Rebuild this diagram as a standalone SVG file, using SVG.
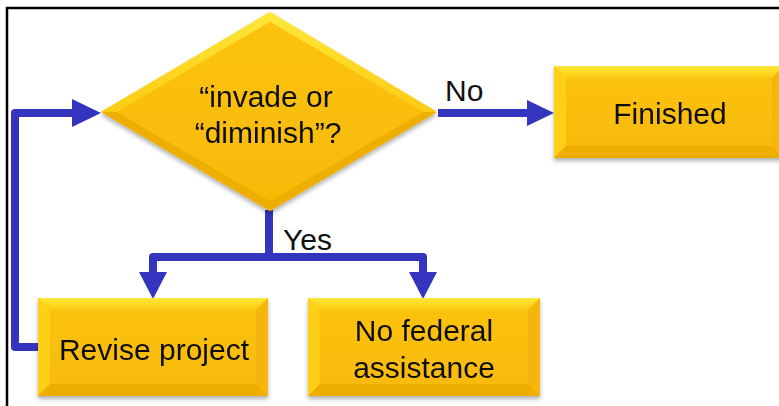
<svg xmlns="http://www.w3.org/2000/svg" width="779" height="406" viewBox="0 0 779 406">
  <defs>
    <linearGradient id="gold" x1="0" y1="0" x2="0" y2="1">
      <stop offset="0" stop-color="#FBC30E"/>
      <stop offset="1" stop-color="#F8BA06"/>
    </linearGradient>
    <linearGradient id="bevelTop" x1="0" y1="0" x2="0" y2="1">
      <stop offset="0" stop-color="#FFE83A"/>
      <stop offset="1" stop-color="#FDCB14"/>
    </linearGradient>
    <filter id="shadow" x="-10%" y="-10%" width="120%" height="130%">
      <feDropShadow dx="0" dy="3" stdDeviation="2" flood-color="#000" flood-opacity="0.3"/>
    </filter>
  </defs>
  <style>
    .lbl { font-family: "Liberation Sans", Arial, sans-serif; font-size: 30px; fill: #111; text-anchor: middle; }
    .edge { font-family: "Liberation Sans", Arial, sans-serif; font-size: 30px; fill: #111; }
    .conn { fill: none; stroke: #3434BE; stroke-width: 8; stroke-linejoin: round; }
    .head { fill: #3434BE; }
    .body { fill: url(#gold); }
    .hi { fill: url(#bevelTop); }
    .lite { fill: #FDCF18; }
    .dark { fill: #EEAE06; }
    .side { fill: #F4B608; }
  </style>

  <rect x="0" y="0" width="779" height="406" fill="#fff"/>
  <!-- frame -->
  <path d="M7,406 V8 H779" fill="none" stroke="#000" stroke-width="2.5"/>

  <!-- connectors -->
  <g id="connectors">
    <path class="conn" d="M438,113 H527" />
    <path class="head" d="M527,100 L554,113 L527,126 Z"/>
    <path class="conn" d="M269,210 V257" />
    <path class="conn" d="M153,273 V257 H423 V273" />
    <path class="head" d="M139,272 L153,299 L167,272 Z"/>
    <path class="head" d="M409,272 L423,299 L437,272 Z"/>
    <path class="conn" d="M38,347 H15 V113 H73" />
    <path class="head" d="M72,99 L101,113 L72,127 Z"/>
    <text class="edge" x="445" y="101">No</text>
    <text class="edge" x="283" y="250">Yes</text>
  </g>

  <!-- decision -->
  <g id="decision" filter="url(#shadow)">
    <path class="body" d="M270,12 L437,112 L270,211 L101,112 Z"/>
    <path class="hi" d="M270,12 L437,112 L423,112 L270,22 L117,112 L101,112 Z"/>
    <path class="dark" d="M101,112 L117,112 L270,201 L423,112 L437,112 L270,211 Z"/>
    <path class="body" d="M270,22 L423,112 L270,201 L117,112 Z"/>
    <text class="lbl" x="266" y="107">“invade or</text>
    <text class="lbl" x="268" y="143">“diminish”?</text>
  </g>

  <!-- finished -->
  <g id="finished" filter="url(#shadow)">
    <rect class="body" x="554" y="66" width="230" height="92"/>
    <path class="hi" d="M554,66 H784 L772,78 H566 Z"/>
    <path class="lite" d="M554,66 L566,78 V146 L554,158 Z"/>
    <path class="dark" d="M554,158 L566,146 H772 L784,158 Z"/>
    <path class="side" d="M784,66 L772,78 V146 L784,158 Z"/>
    <text class="lbl" x="670" y="124">Finished</text>
  </g>

  <!-- revise project -->
  <g id="revise" filter="url(#shadow)">
    <rect class="body" x="38" y="298" width="230" height="98"/>
    <path class="hi" d="M38,298 H268 L256,310 H50 Z"/>
    <path class="lite" d="M38,298 L50,310 V384 L38,396 Z"/>
    <path class="dark" d="M38,396 L50,384 H256 L268,396 Z"/>
    <path class="side" d="M268,298 L256,310 V384 L268,396 Z"/>
    <text class="lbl" x="154" y="360">Revise project</text>
  </g>

  <!-- no federal assistance -->
  <g id="nofederal" filter="url(#shadow)">
    <rect class="body" x="308" y="298" width="232" height="98"/>
    <path class="hi" d="M308,298 H540 L528,310 H320 Z"/>
    <path class="lite" d="M308,298 L320,310 V384 L308,396 Z"/>
    <path class="dark" d="M308,396 L320,384 H528 L540,396 Z"/>
    <path class="side" d="M540,298 L528,310 V384 L540,396 Z"/>
    <text class="lbl" x="424" y="341">No federal</text>
    <text class="lbl" x="424" y="378">assistance</text>
  </g>
</svg>
